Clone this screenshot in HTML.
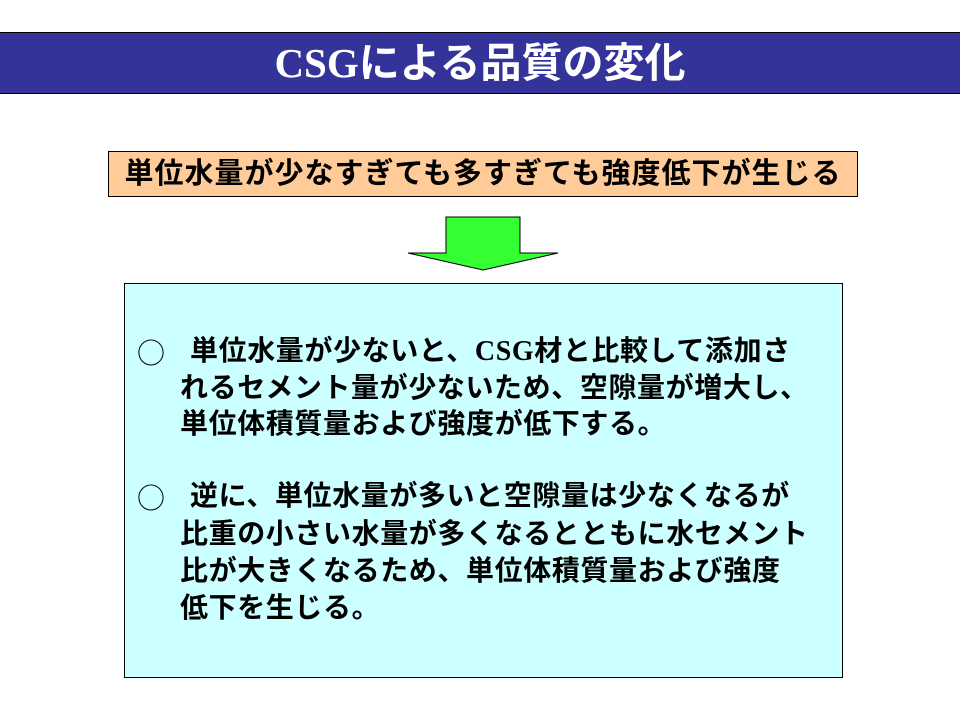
<!DOCTYPE html>
<html><head><meta charset="utf-8"><style>
body{margin:0;width:960px;height:720px;background:#fff;position:relative;overflow:hidden;font-family:"Liberation Serif","Noto Serif CJK SC","Noto Sans CJK JP",serif;}
.t{position:absolute;left:0;top:32px;width:960px;height:62px;background:#333399;border-top:1px solid #000;border-bottom:1px solid #000;box-sizing:border-box;color:#fff;font-weight:bold;font-size:41px;text-align:center;line-height:60px;font-family:"Liberation Serif","Noto Sans CJK JP",serif;}
.o{position:absolute;left:108px;top:151px;width:750px;height:46px;background:#FFCC99;border:1px solid #000;box-sizing:border-box;font-size:29px;letter-spacing:1px;font-weight:bold;text-align:center;line-height:44px;font-family:"Liberation Sans","Noto Sans CJK JP",sans-serif;}
.b{position:absolute;left:124px;top:283px;width:719px;height:395px;background:#CCFFFF;border:1px solid #000;box-sizing:border-box;}
.l{position:absolute;font-size:28px;letter-spacing:0.6px;font-weight:bold;white-space:nowrap;font-family:"Liberation Serif","Noto Sans CJK JP",sans-serif;line-height:30px;}
.c{position:absolute;font-size:28px;font-family:"Noto Sans CJK JP",sans-serif;line-height:30px;}
</style></head><body>
<div class="t">CSGによる品質の変化</div>
<div class="o">単位水量が少なすぎても多すぎても強度低下が生じる</div>
<svg style="position:absolute;left:0;top:0" width="960" height="720"><polygon points="446,217 520,217 520,253 558,253 483,270 408,253 446,253" fill="#33ff33" stroke="#000" stroke-width="1"/></svg>
<div class="b"></div>
<div class="c" style="left:137px;top:337px">○</div>
<div class="l" style="left:190px;top:337px">単位水量が少ないと、CSG材と比較して添加さ</div>
<div class="l" style="left:180px;top:374px">れるセメント量が少ないため、空隙量が増大し、</div>
<div class="l" style="left:180px;top:410px">単位体積質量および強度が低下する。</div>
<div class="c" style="left:137px;top:482px">○</div>
<div class="l" style="left:190px;top:482px">逆に、単位水量が多いと空隙量は少なくなるが</div>
<div class="l" style="left:180px;top:520px">比重の小さい水量が多くなるとともに水セメント</div>
<div class="l" style="left:180px;top:557px">比が大きくなるため、単位体積質量および強度</div>
<div class="l" style="left:180px;top:594px">低下を生じる。</div>
</body></html>
